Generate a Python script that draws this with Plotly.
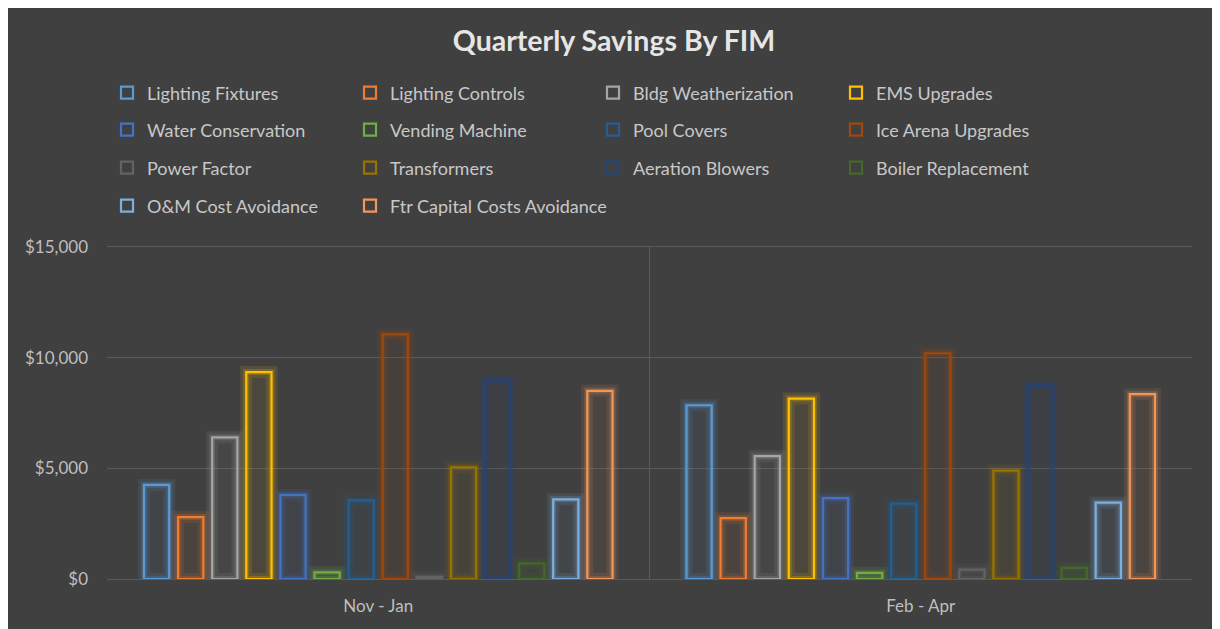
import plotly.graph_objects as go

categories = ["Nov - Jan", "Feb - Apr"]
series_names = [
    "Lighting Fixtures", "Lighting Controls", "Bldg Weatherization", "EMS Upgrades",
    "Water Conservation", "Vending Machine", "Pool Covers", "Ice Arena Upgrades",
    "Power Factor", "Transformers", "Aeration Blowers", "Boiler Replacement",
    "O&M Cost Avoidance", "Ftr Capital Costs Avoidance",
]
nov_jan = [4250, 2800, 6400, 9350, 3800, 300, 3550, 11050, 100, 5050, 9000, 700, 3600, 8500]
feb_apr = [7850, 2750, 5550, 8150, 3650, 280, 3400, 10200, 420, 4900, 8750, 500, 3450, 8350]
colors = [
    "#5B9BD5", "#ED7D31", "#A5A5A5", "#FFC000", "#4472C4", "#70AD47", "#255E91",
    "#9E480E", "#636363", "#997300", "#264478", "#43682B", "#7CAFDD", "#F1975A",
]
y_ticks = [0, 5000, 10000, 15000]


def rgba(hex_color, a):
    h = hex_color.lstrip("#")
    r, g, b = int(h[0:2], 16), int(h[2:4], 16), int(h[4:6], 16)
    return f"rgba({r},{g},{b},{a})"


FONT = "Lato, 'Open Sans', sans-serif"
fig = go.Figure()

# legend assignment: rows of four; last row split so its long entry is not clipped
legend_of = ["legend"] * 4 + ["legend2"] * 4 + ["legend3"] * 4 + ["legend4", "legend5"]

for i, name in enumerate(series_names):
    vals = [nov_jan[i], feb_apr[i]]
    col = colors[i]
    fig.add_trace(go.Bar(
        x=categories, y=vals, name=name, offsetgroup=str(i), showlegend=False,
        marker=dict(color=rgba(col, 0.06), line=dict(color=rgba(col, 0.12), width=12)),
        hoverinfo="skip",
    ))
    fig.add_trace(go.Bar(
        x=categories, y=vals, name=name, offsetgroup=str(i), showlegend=False,
        marker=dict(color="rgba(0,0,0,0)", line=dict(color=rgba(col, 0.22), width=6)),
        hoverinfo="skip",
    ))
    fig.add_trace(go.Bar(
        x=categories, y=vals, name=name, offsetgroup=str(i),
        legend=legend_of[i],
        marker=dict(color="rgba(0,0,0,0)", line=dict(color=col, width=2.2)),
    ))

# page offset of 8px (browser body margin) is accounted for below
W, H = 1212, 621
L, R, T, B = 99, 28, 239, 50
pw = W - L - R
ph = H - T - B


def py(fy):
    return (H - B - fy) / ph


def px(fx):
    return (fx - L) / pw


legend_common = dict(
    orientation="h", xanchor="left", yanchor="middle",
    bgcolor="rgba(0,0,0,0)", font=dict(family=FONT, size=18, color="#C8C8C8"),
    entrywidth=198, entrywidthmode="pixels", itemclick=False, traceorder="normal",
)
legend_pos = {
    "legend": (99, 85), "legend2": (99, 122), "legend3": (99, 160),
    "legend4": (99, 198), "legend5": (342, 198),
}
layout_legends = {}
for lid, (lx, ly) in legend_pos.items():
    d = dict(legend_common, x=px(lx), y=py(ly))
    if lid == "legend5":
        d["entrywidth"] = 0
    layout_legends[lid] = d

fig.update_layout(
    width=W, height=H,
    margin=dict(l=L, r=R, t=T, b=B),
    paper_bgcolor="#404040", plot_bgcolor="#404040",
    barmode="group", bargap=0.12, bargroupgap=0.26,
    title=dict(text="<b>Quarterly Savings By FIM</b>", x=0.5, xanchor="center",
               y=1 - 33 / H, yanchor="middle",
               font=dict(family=FONT, size=28.5, color="#E6E6E6")),
    xaxis=dict(tickson="boundaries", showgrid=True, gridcolor="#5A5A5A", gridwidth=1.3,
               showline=True, linecolor="#5A5A5A", mirror=True, ticks="",
               ticklabelstandoff=12,
               tickfont=dict(family=FONT, size=17, color="#BFBFBF"), zeroline=False),
    yaxis=dict(range=[0, 15000], tickvals=y_ticks, tickformat="$,.0f",
               showgrid=True, gridcolor="#5A5A5A", gridwidth=1.3, zeroline=False,
               showline=False, ticks="", ticklabelstandoff=18,
               tickfont=dict(family=FONT, size=17, color="#BFBFBF")),
    showlegend=True,
    **layout_legends,
)

fig.write_html("out.html")
